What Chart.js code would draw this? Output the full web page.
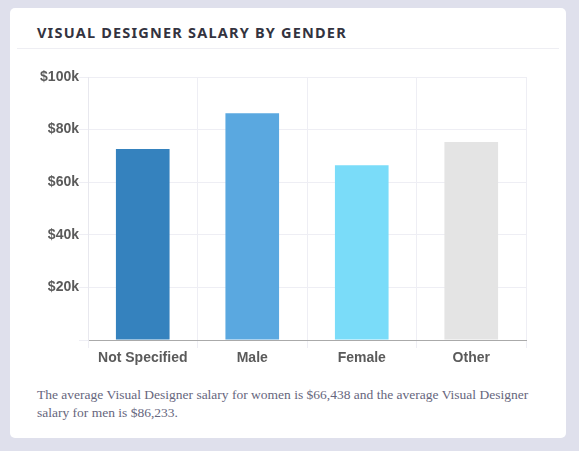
<!DOCTYPE html>
<html><head><meta charset="utf-8">
<script src="https://cdn.jsdelivr.net/npm/chart.js@4"></script>
<style>
html,body{margin:0;padding:0;width:579px;height:451px;background:#dfe0ec;overflow:hidden}
#card{position:absolute;left:10px;top:8px;width:556px;height:430px;background:#fff;border-radius:5px}
#title{position:absolute;left:27px;top:14px;font:bold 14.5px "Noto Sans",sans-serif;letter-spacing:1.2px;color:#333340}
#hr{position:absolute;left:7px;right:7px;top:40px;height:1px;background:#eeeef3}
#cap{position:absolute;left:27px;top:378px;width:515px;font:13.5px "Liberation Serif",serif;line-height:18px;color:#66667d}
#wrap{position:absolute;left:0;top:52px;width:530px;height:310px}
</style></head><body>
<div id="card"><div id="title">VISUAL DESIGNER SALARY BY GENDER</div><div id="hr"></div>
<div id="wrap"><canvas id="c"></canvas></div>
<div id="cap">The average Visual Designer salary for women is $66,438 and the average Visual Designer salary for men is $86,233.</div></div>
<script>
const categories=["Not Specified","Male","Female","Other"];
const salaries=[72600,86233,66438,75300];
const barColors=["#3582be","#5aa8e0","#7adcf9","#e4e4e4"];
const yTicks=[0,20000,40000,60000,80000,100000];
new Chart(document.getElementById('c'),{type:'bar',
data:{labels:categories,datasets:[{data:salaries,backgroundColor:barColors,categoryPercentage:1,barPercentage:0.49}]},
options:{responsive:true,maintainAspectRatio:false,animation:false,
layout:{padding:{top:17,right:14,left:0,bottom:0}},
plugins:{legend:{display:false},tooltip:{enabled:false}},
scales:{
x:{afterFit:s=>{s.height=30},grid:{color:'#eeeef4',tickLength:8,offset:true},border:{color:'#aaaaaa'},
ticks:{color:'#5a5a5a',font:{family:'Liberation Sans',size:14,weight:'bold'},padding:2}},
y:{min:0,max:100000,afterFit:s=>{s.width=78},afterBuildTicks:s=>{s.ticks=yTicks.map(v=>({value:v}))},
grid:{color:'#eeeef4',tickLength:9},border:{color:'#e8e8ee'},
ticks:{color:'#5a5a5a',font:{family:'Liberation Sans',size:14,weight:'bold'},padding:0,
callback:v=>v===0?'':'$'+(v/1000)+'k'}}}}});
</script></body></html>
